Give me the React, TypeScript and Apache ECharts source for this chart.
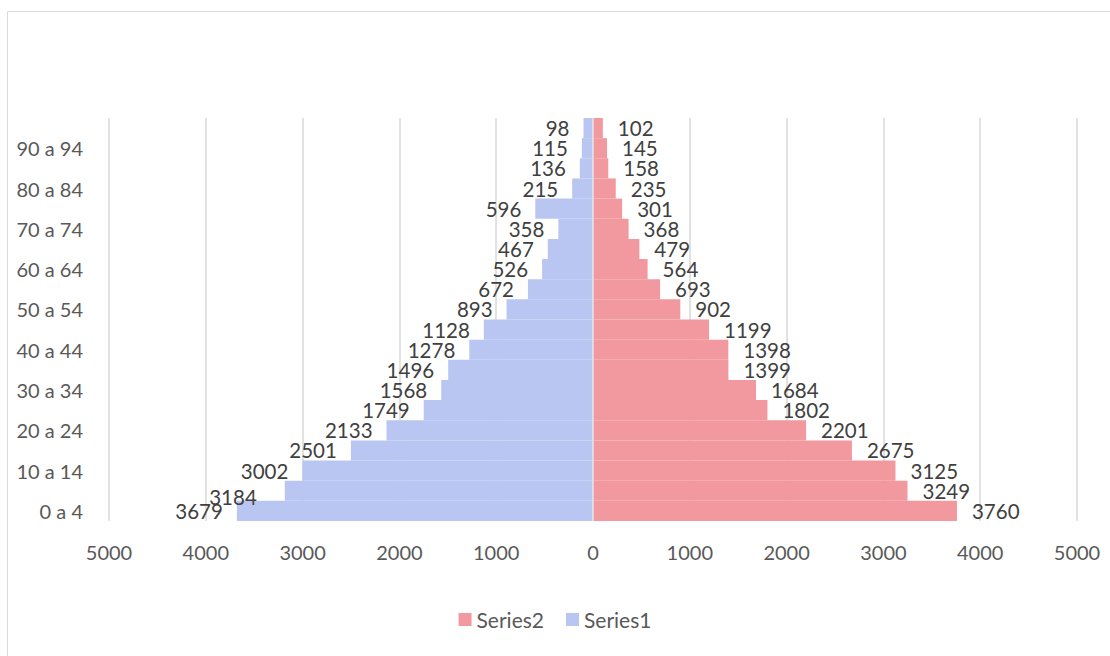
import React, { useEffect, useRef } from "react";
import * as echarts from "echarts";

const categories = [
  "0 a 4", "5 a 9", "10 a 14", "15 a 19", "20 a 24", "25 a 29", "30 a 34", "35 a 39",
  "40 a 44", "45 a 49", "50 a 54", "55 a 59", "60 a 64", "65 a 69", "70 a 74", "75 a 79",
  "80 a 84", "85 a 89", "90 a 94", "95 a 99",
];
const series1 = [3679, 3184, 3002, 2501, 2133, 1749, 1568, 1496, 1278, 1128, 893, 672, 526, 467, 358, 596, 215, 136, 115, 98];
const series2 = [3760, 3249, 3125, 2675, 2201, 1802, 1684, 1399, 1398, 1199, 902, 693, 564, 479, 368, 301, 235, 158, 145, 102];
const xTicks = { min: -5000, max: 5000, interval: 1000 };

const FONT = "Lato, 'Open Sans', sans-serif";

export default function App() {
  const ref = useRef<HTMLDivElement>(null);
  useEffect(() => {
    if (!ref.current) return;
    const chart = echarts.init(ref.current, undefined, { renderer: "svg" });
    chart.setOption({
      animation: false,
      textStyle: { fontFamily: FONT },
      graphic: [
        {
          type: "rect",
          shape: { x: 7.5, y: 11.5, width: 1200, height: 700 },
          style: { fill: "none", stroke: "#d9d9d9", lineWidth: 1 },
          silent: true,
        },
      ],
      legend: {
        data: ["Series2", "Series1"],
        bottom: 21,
        left: "center",
        itemWidth: 13,
        itemHeight: 13,
        itemGap: 22,
        icon: "rect",
        textStyle: { fontFamily: FONT, fontSize: 21, color: "#595959" },
      },
      grid: { left: 109, right: 33, top: 118, bottom: 135 },
      xAxis: {
        type: "value",
        min: xTicks.min,
        max: xTicks.max,
        interval: xTicks.interval,
        axisLine: { show: false },
        axisTick: { show: false },
        splitLine: { lineStyle: { color: "#d9d9d9", width: 1.5 } },
        axisLabel: {
          formatter: (v: number) => String(Math.abs(v)),
          fontFamily: FONT,
          fontSize: 20,
          color: "#595959",
          margin: 21,
        },
      },
      yAxis: {
        type: "category",
        data: categories,
        axisLine: { show: false, onZero: false },
        axisTick: { show: false },
        axisLabel: {
          interval: 1,
          fontFamily: FONT,
          fontSize: 20,
          color: "#595959",
          margin: 26,
        },
      },
      series: [
        {
          name: "Series2",
          type: "bar",
          data: series2,
          barCategoryGap: 0,
          barGap: "-100%",
          itemStyle: { color: "#f2999f" },
          label: {
            show: true,
            position: "right",
            distance: 15,
            fontFamily: FONT,
            fontSize: 20.5,
            color: "#404040",
          },
        },
        {
          name: "Series1",
          type: "bar",
          data: series1.map((v, i) =>
            i === 1
              ? { value: -v, label: { offset: [-14, 6] } }
              : -v
          ),
          barCategoryGap: 0,
          barGap: "-100%",
          itemStyle: { color: "#b9c6f1" },
          label: {
            show: true,
            position: "left",
            distance: 14,
            fontFamily: FONT,
            fontSize: 20.5,
            color: "#404040",
            formatter: (p: any) => String(Math.abs(p.value)),
          },
          markLine: {
            silent: true,
            symbol: "none",
            label: { show: false },
            lineStyle: { color: "#e6e6e6", width: 1.5, type: "solid" },
            data: [{ xAxis: 0 }],
          },
        },
      ],
    });
    return () => chart.dispose();
  }, []);
  return (
    <div
      ref={ref}
      style={{ position: "fixed", left: 0, top: 0, width: 1110, height: 656, background: "#fff" }}
    />
  );
}
